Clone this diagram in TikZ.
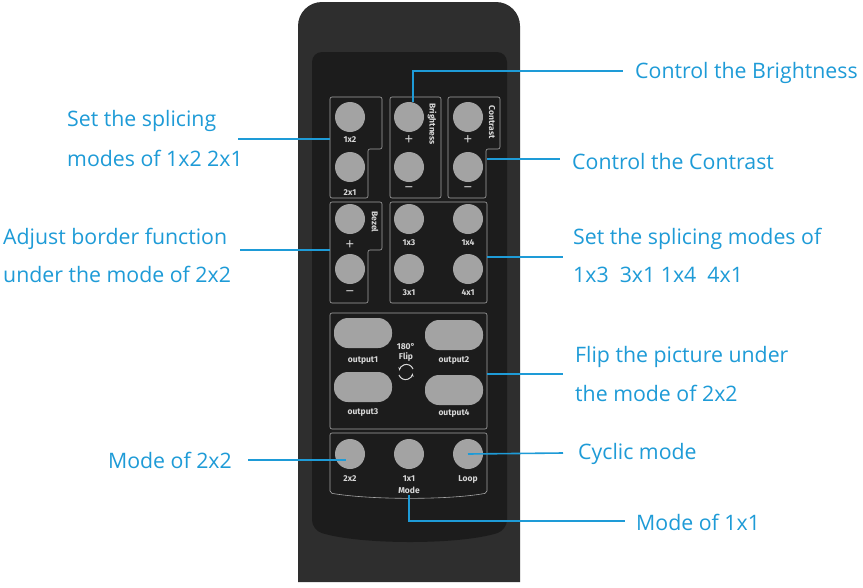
\documentclass[tikz,border=0pt]{standalone}
\usepackage{fontspec}
\setmainfont{Open Sans}
\newfontfamily\rfont{Fira Sans}
\usetikzlibrary{arrows.meta}
\definecolor{lb}{HTML}{1E9BD7}
\definecolor{body}{HTML}{2E2E2E}
\definecolor{panel}{HTML}{1C1C1C}
\definecolor{btn}{HTML}{A3A3A3}
\definecolor{lbl}{HTML}{D8D8D8}
\tikzset{
  btncirc/.style={circle,fill=btn,minimum size=30pt,inner sep=0pt},
  pill/.style={rounded corners=14pt,fill=btn,minimum width=58pt,minimum height=30pt,inner sep=0pt},
  rl/.style={font=\rfont\bfseries\fontsize{8.5}{9}\selectfont,text=lbl,inner sep=0pt},
  pm/.style={font=\fontsize{15}{15}\selectfont,text=lbl,inner sep=0pt},
  grp/.style={draw=gray!70,line width=0.6pt,rounded corners=2pt},
  ann/.style={font=\fontsize{21.3}{24}\selectfont,text=lb,inner sep=0pt,anchor=west},
  lead/.style={draw=lb,line width=1.6pt},
}
\begin{document}
\begin{tikzpicture}[x=1pt,y=-1pt]
\useasboundingbox (0,0) rectangle (863,587);
\fill[white] (0,0) rectangle (863,587);
% body
\fill[body] (298,582) -- (298,30) [rounded corners=24pt] -- (298,2) -- (520,2) [sharp corners] -- (520,582) -- cycle;
\fill[panel,rounded corners=10pt] (312,52) -- (507,52) -- (507,530) .. controls (460,545) and (360,545) .. (312,530) -- cycle;
% group boxes
\draw[grp] (330,97) -- (382,97) -- (382,149) -- (368,149) -- (368,198) -- (330,198) -- cycle;
\draw[grp] (390,97) rectangle (441,198);
\draw[grp] (448,97) -- (500,97) -- (500,149) -- (486,149) -- (486,198) -- (448,198) -- cycle;
\draw[grp] (330,202) -- (382,202) -- (382,250) -- (368,250) -- (368,303) -- (330,303) -- cycle;
\draw[grp] (390,202) rectangle (487,303);
\draw[grp] (330,313) rectangle (487,429);
\draw[grp] (330,433) -- (487,433) -- (487,493) .. controls (450,500) and (370,500) .. (330,493) -- cycle;
% buttons
\node[btncirc] (b12) at (350,117) {};
\node[btncirc] (b21) at (350,167) {};
\node[rl] at (350,140) {1x2};
\node[rl] at (350,193) {2x1};
\node[btncirc] (bp) at (409,117) {};
\node[btncirc] (bm) at (409,167) {};
\node[pm] at (409,140) {+};
\node[pm] at (409,190) {\textminus};
\node[rl,rotate=-90] at (432,124) {Brightness};
\node[btncirc] (cp) at (468,117) {};
\node[btncirc] (cm) at (468,167) {};
\node[pm] at (468,140) {+};
\node[pm] at (468,190) {\textminus};
\node[rl,rotate=-90] at (492,122) {Contrast};
\node[btncirc] (zp) at (350,219) {};
\node[btncirc] (zm) at (350,269) {};
\node[pm] at (350,245) {+};
\node[pm] at (350,294) {\textminus};
\node[rl,rotate=-90] at (375,222) {Bezel};
\node[btncirc] (s13) at (409,219) {};
\node[btncirc] (s14) at (468,219) {};
\node[btncirc] (s31) at (409,269) {};
\node[btncirc] (s41) at (468,269) {};
\node[rl] at (409,243) {1x3};
\node[rl] at (468,243) {1x4};
\node[rl] at (409,293) {3x1};
\node[rl] at (468,293) {4x1};
\node[pill] (o1) at (363,333) {};
\node[pill] (o2) at (454,335) {};
\node[pill] (o3) at (363,387) {};
\node[pill] (o4) at (454,390) {};
\node[rl] at (363,361) {output1};
\node[rl] at (454,361) {output2};
\node[rl] at (363,413) {output3};
\node[rl] at (454,413) {output4};
\node[rl] at (406,347) {180\textdegree};
\node[rl] at (406,357) {Flip};
\draw[lbl,line width=1pt,-{Stealth[length=3.5pt]}] (413,369) arc[start angle=-20,end angle=-175,radius=7];
\draw[lbl,line width=1pt,-{Stealth[length=3.5pt]}] (399,375) arc[start angle=160,end angle=5,radius=7];
\node[btncirc] (m22) at (350,454) {};
\node[btncirc] (m11) at (409,454) {};
\node[btncirc] (loop) at (468,454) {};
\node[rl] at (350,479) {2x2};
\node[rl] at (409,479) {1x1};
\node[rl] at (468,479) {Loop};
\node[rl] (mode) at (409,490) {Mode};
% annotations
\node[ann] (tB) at (635,73) {Control the Brightness};
\node[ann] (tC) at (572,162) {Control the Contrast};
\node[ann] (tS1) at (67,121) {Set the splicing};
\node[ann] at (67,158) {modes of 1x2 2x1};
\node[ann] (tA) at (3,239) {Adjust border function};
\node[ann] at (3,274) {under the mode of 2x2};
\node[ann] (tS3) at (573,239) {Set the splicing modes of};
\node[ann] at (573,275) {1x3\ \ 3x1 1x4\ \ 4x1};
\node[ann] (tF) at (575,357) {Flip the picture under};
\node[ann] at (575,393) {the mode of 2x2};
\node[ann] (tL) at (578,454) {Cyclic mode};
\node[ann,anchor=east] (tM2) at (232,460) {Mode of 2x2};
\node[ann] (tM1) at (636,522) {Mode of 1x1};
% leaders
\coordinate (c1) at (413,71);
\draw[lead] (413,102) -- (c1) -- (623,71);
\draw[lead] (487,159) -- (560,159);
\draw[lead] (238,139) -- (330,139);
\draw[lead] (240,250) -- (330,250);
\draw[lead] (487,257) -- (563,257);
\draw[lead] (487,374) -- (563,374);
\draw[lead] (loop.center) -- (563,453);
\draw[lead] (248,460) -- (346,460);
\draw[lead] (409,495) -- (409,521) -- (625,521);
\end{tikzpicture}
\end{document}
